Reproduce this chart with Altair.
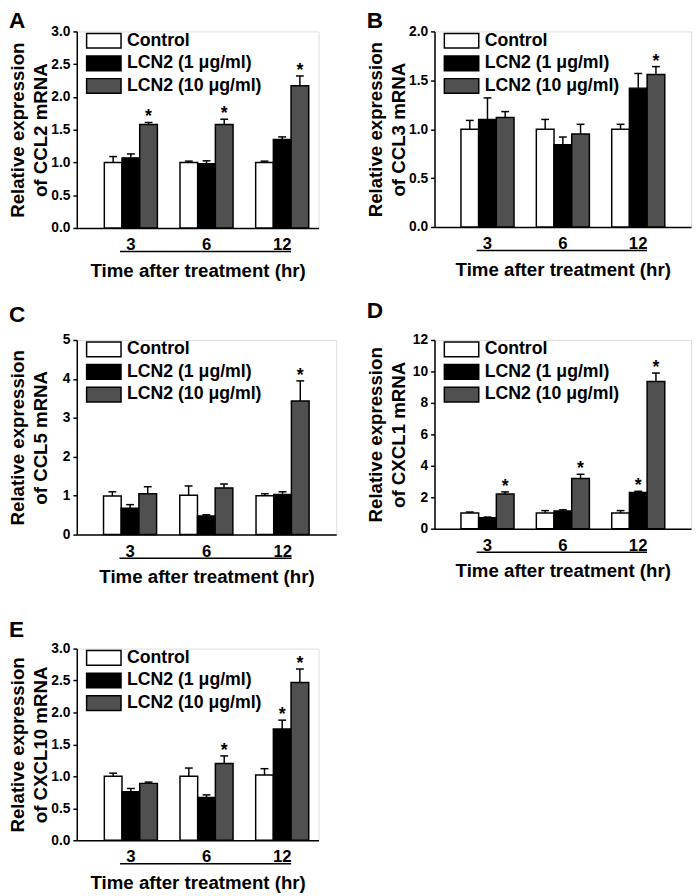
import altair as alt
import pandas as pd

FONT = "Liberation Sans"

times = ["3", "6", "12"]
groups = ["Control", "LCN2 (1 μg/ml)", "LCN2 (10 μg/ml)"]
colors = ["#ffffff", "#000000", "#505050"]

# rows = time (3, 6, 12 hr); columns = Control, LCN2 1, LCN2 10
ccl2_mean = [[1.00, 1.07, 1.58], [1.00, 0.98, 1.58], [1.00, 1.35, 2.17]]
ccl2_err = [[0.09, 0.06, 0.03], [0.02, 0.045, 0.08], [0.02, 0.04, 0.15]]
ccl2_sig = [[0, 0, 1], [0, 0, 1], [0, 0, 1]]

ccl3_mean = [[1.00, 1.10, 1.12], [1.00, 0.84, 0.95], [1.00, 1.42, 1.56]]
ccl3_err = [[0.09, 0.22, 0.06], [0.10, 0.08, 0.10], [0.05, 0.15, 0.08]]
ccl3_sig = [[0, 0, 0], [0, 0, 0], [0, 0, 1]]

ccl5_mean = [[0.99, 0.68, 1.05], [1.01, 0.48, 1.20], [1.00, 1.03, 3.43]]
ccl5_err = [[0.11, 0.09, 0.18], [0.24, 0.03, 0.10], [0.05, 0.07, 0.52]]
ccl5_sig = [[0, 0, 0], [0, 0, 0], [0, 0, 1]]

cxcl1_mean = [[1.00, 0.69, 2.21], [1.00, 1.12, 3.19], [1.00, 2.31, 9.36]]
cxcl1_err = [[0.06, 0.05, 0.13], [0.15, 0.08, 0.27], [0.15, 0.07, 0.54]]
cxcl1_sig = [[0, 0, 1], [0, 0, 1], [0, 1, 1]]

cxcl10_mean = [[1.00, 0.76, 0.89], [1.00, 0.67, 1.20], [1.02, 1.74, 2.47]]
cxcl10_err = [[0.05, 0.05, 0.02], [0.13, 0.04, 0.12], [0.10, 0.14, 0.21]]
cxcl10_sig = [[0, 0, 0], [0, 0, 1], [0, 1, 1]]

ticks_a = [0, 0.5, 1.0, 1.5, 2.0, 2.5, 3.0]
ticks_b = [0, 0.5, 1.0, 1.5, 2.0]
ticks_c = [0, 1, 2, 3, 4, 5]
ticks_d = [0, 2, 4, 6, 8, 10, 12]
ticks_e = [0, 0.5, 1.0, 1.5, 2.0, 2.5, 3.0]


def panel(letter, gene, mean, err, sig, yticks, fmt, width, height,
          pad_outer, align, title_offset):
    rows = []
    for i, t in enumerate(times):
        for j, g in enumerate(groups):
            rows.append(dict(time=t, group=g, mean=mean[i][j], err=err[i][j],
                             top=mean[i][j] + err[i][j],
                             star="*" if sig[i][j] else ""))
    df = pd.DataFrame(rows)

    xscale = alt.Scale(domain=times, paddingInner=0.2987,
                       paddingOuter=pad_outer, align=align)
    xaxis = alt.Axis(title="Time after treatment (hr)", labelAngle=0,
                     ticks=False, domainColor="black", domainWidth=1.5,
                     labelFont=FONT, labelFontSize=17, labelFontWeight="bold",
                     labelColor="black", labelPadding=9,
                     titleFont=FONT, titleFontSize=19, titleFontWeight="bold",
                     titleColor="black", titlePadding=9)
    x = alt.X("time:N", scale=xscale, sort=times, axis=xaxis)
    xo = alt.XOffset("group:N", sort=groups,
                     scale=alt.Scale(domain=groups, paddingInner=0,
                                     paddingOuter=0))
    yaxis = alt.Axis(values=yticks, format=fmt, grid=False,
                     title=["Relative expression", f"of {gene} mRNA"],
                     domainColor="black", domainWidth=1.5,
                     tickColor="black", tickWidth=1.5, tickSize=4,
                     labelFont=FONT, labelFontSize=14, labelFontWeight="bold",
                     labelColor="black", labelPadding=3,
                     minExtent=26, maxExtent=26,
                     titleFont=FONT, titleFontSize=19, titleFontWeight="bold",
                     titleColor="black", titlePadding=1, titleLineHeight=23)
    yscale = alt.Scale(domain=[yticks[0], yticks[-1]], nice=False)
    y = alt.Y("mean:Q", scale=yscale, axis=yaxis, stack=None)
    ytop = alt.Y("top:Q", scale=yscale, axis=yaxis)

    legend = alt.Legend(title=None, orient="none", legendX=18, legendY=0,
                        padding=0,
                        symbolType="M-2.06,-0.88H2.06V0.88H-2.06Z",
                        symbolSize=289, symbolStrokeColor="black",
                        symbolStrokeWidth=1.5, symbolOpacity=1,
                        labelFont=FONT, labelFontSize=18,
                        labelFontWeight="bold", labelColor="black",
                        labelOffset=14, rowPadding=2, labelLimit=300)

    base = alt.Chart(df)
    bars = base.mark_bar(stroke="black", strokeWidth=1.5, opacity=1).encode(
        x=x, xOffset=xo, y=y,
        color=alt.Color("group:N", sort=groups,
                        scale=alt.Scale(domain=groups, range=colors),
                        legend=legend))
    whisker = base.mark_rule(color="black", strokeWidth=1.5).encode(
        x=x, xOffset=xo, y=y, y2="top:Q")
    cap = base.mark_tick(color="black", thickness=1.5, size=8,
                         opacity=1).encode(x=x, xOffset=xo, y=ytop)
    stars = base.transform_filter("datum.star != ''").mark_text(
        font=FONT, fontSize=18, fontWeight="bold", baseline="alphabetic",
        color="black", dy=0).encode(x=x, xOffset=xo, y=ytop, text="star:N")
    line_df = pd.DataFrame({"start": [times[0]], "end": [times[-1]]})
    underline = alt.Chart(line_df).mark_rule(
        color="black", strokeWidth=1.5, xOffset=-11, x2Offset=9).encode(
        x=alt.X("start:N", scale=xscale, axis=xaxis),
        x2="end:N",
        y=alt.value(height + 24))

    return alt.layer(bars, whisker, cap, stars, underline).properties(
        width=width, height=height,
        title=alt.TitleParams(letter, anchor="start", frame="bounds",
                              font=FONT, fontSize=23, fontWeight="bold",
                              color="black", offset=title_offset))


pa = panel("A", "CCL2", ccl2_mean, ccl2_err, ccl2_sig, ticks_a, ".1f",
           246, 200, 0.2468, 0.737, -9)
pb = panel("B", "CCL3", ccl3_mean, ccl3_err, ccl3_sig, ticks_b, ".1f",
           261, 199, 0.3506, 0.5, -9)
pc = panel("C", "CCL5", ccl5_mean, ccl5_err, ccl5_sig, ticks_c, "d",
           264, 198, 0.3506, 0.5, 6)
pd_ = panel("D", "CXCL1", cxcl1_mean, cxcl1_err, cxcl1_sig, ticks_d, "d",
            261, 192, 0.3506, 0.5, 10)
pe = panel("E", "CXCL10", cxcl10_mean, cxcl10_err, cxcl10_sig, ticks_e, ".1f",
           246, 195, 0.2468, 0.737, 0)

row1 = alt.hconcat(pa, pb, spacing=47).resolve_scale(color="independent")
row2 = alt.hconcat(pc, pd_, spacing=29).resolve_scale(color="independent")
row3 = alt.hconcat(pe)

top_rows = alt.vconcat(row1, row2, spacing=19).resolve_scale(
    color="independent")
chart = alt.vconcat(top_rows, row3, spacing=31).resolve_scale(
    color="independent").properties(
    padding={"left": 0, "top": -6, "right": 0, "bottom": 0}).configure_view(
    stroke=None).configure(background="white")

chart.save("out.html", embed_options={"renderer": "svg", "actions": False})
